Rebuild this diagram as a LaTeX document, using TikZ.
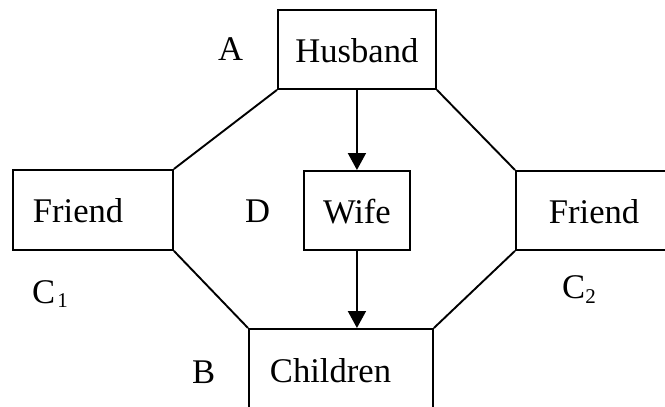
\documentclass[tikz,border=0pt]{standalone}
\usepackage{fontspec}
\setmainfont{Liberation Serif}
\usetikzlibrary{arrows.meta}
\begin{document}
\begin{tikzpicture}[x=1pt,y=-1pt,
  font=\fontsize{34.6}{40}\selectfont,
  box/.style={draw,line width=1.9pt,inner ysep=0pt,anchor=north west},
  lab/.style={inner sep=0pt,anchor=base west},
  conn/.style={line width=1.9pt},
  arr/.style={line width=1.9pt,-{Triangle[width=18pt,length=17pt]}}]
\useasboundingbox (0,0) rectangle (665,407);
% boxes
\node[box,inner xsep=0pt,text width=158pt,align=center,text height=53pt,text depth=26pt] (h) at (277,9) {Husband};
\node[box,inner xsep=20pt,text width=120pt,align=left,text height=53pt,text depth=27pt] (fl) at (12,169) {Friend};
\node[box,inner xsep=0pt,text width=106pt,align=center,text height=53pt,text depth=26pt] (w) at (303,170) {Wife};
\node[box,inner xsep=33pt,text width=119pt,align=left,text height=53pt,text depth=26pt] (fr) at (515,170) {Friend};
\node[box,inner xsep=21pt,text width=142pt,align=left,text height=54pt,text depth=60pt] (c) at (248,328) {Children};
% labels
\node[lab] (la) at (218,60) {A};
\node[lab] (ld) at (245,222) {D};
\node[lab] (lb) at (192,383) {B};
\node[lab] (lc1) at (32,303) {C\kern2pt\raisebox{-4pt}{\fontsize{21}{21}\selectfont 1}};
\node[lab] (lc2) at (562,298) {C\raisebox{-5pt}{\fontsize{21}{21}\selectfont 2}};
% connectors
\draw[conn] (h.south west) -- (fl.north east);
\draw[conn] (fl.south east) -- (c.north west);
\draw[conn] (h.south east) -- (fr.north west);
\draw[conn] (fr.south west) -- (c.north east);
\draw[arr] (h.south -| w.north) -- (w.north);
\draw[arr] (w.south) -- (w.south |- c.north);
\end{tikzpicture}
\end{document}
